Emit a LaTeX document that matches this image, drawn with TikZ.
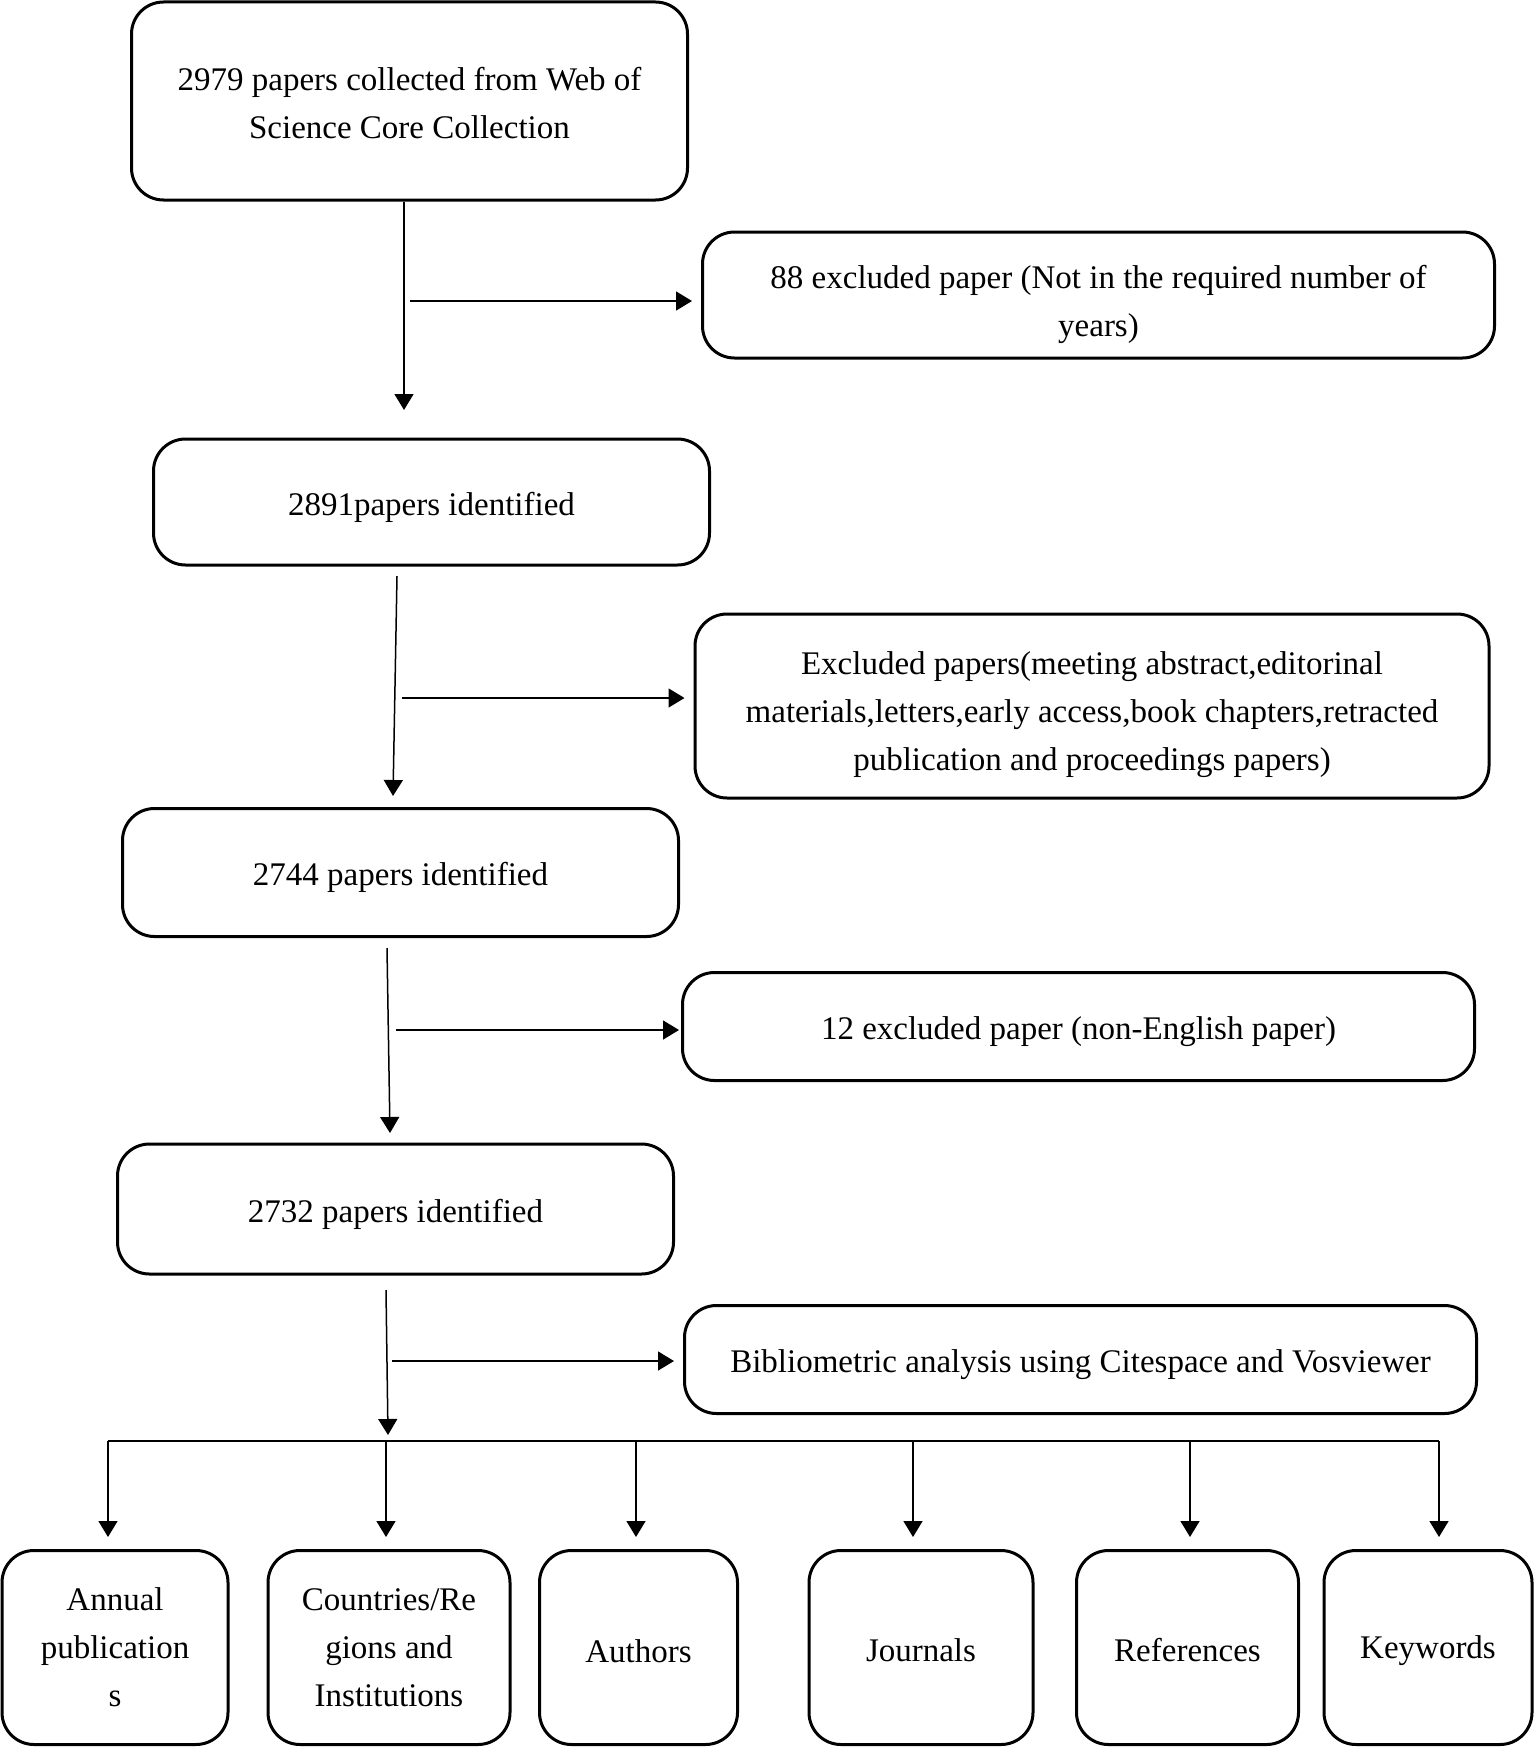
\documentclass[tikz,border=0pt]{standalone}
\usepackage{fontspec}
\setmainfont{Liberation Serif}
\usetikzlibrary{arrows.meta}

\newcommand{\padtop}[1]{\rule{0pt}{#1}}

\tikzset{every picture/.style={line width=0.75pt}}
\tikzset{
  rbox/.style={draw, line width=1.5pt, rounded corners=16pt, align=center, inner sep=0pt,
    font=\fontsize{16.5}{24}\selectfont},
  arr/.style={-{Triangle[length=8pt,width=9.5pt]}, line width=0.75pt}
}

\begin{document}
\begin{tikzpicture}[x=0.5pt,y=0.5pt,yscale=-1,xscale=1]
\useasboundingbox (0,0) rectangle (1535,1750);

% Rounded Rect
\node [rbox, minimum width=278pt, minimum height=99pt] (collect) at (409.5,101) {\padtop{14pt}2979 papers collected from Web of\\Science Core Collection};
% Rounded Rect
\node [rbox, minimum width=396pt, minimum height=63pt] (excl1) at (1098.5,295) {\padtop{21pt}88 excluded paper (Not in the required number of\\years)};
% Rounded Rect
\node [rbox, minimum width=278pt, minimum height=63pt] (ident1) at (431.5,502) {\padtop{17pt}2891papers identified};
% Rounded Rect
\node [rbox, minimum width=397pt, minimum height=92pt] (excl2) at (1092,706) {\padtop{20pt}Excluded papers(meeting abstract,editorinal\\materials,letters,early access,book chapters,retracted\\publication and proceedings papers)};
% Rounded Rect
\node [rbox, minimum width=278pt, minimum height=64pt] (ident2) at (400.5,872.5) {\padtop{17pt}2744 papers identified};
% Rounded Rect
\node [rbox, minimum width=396pt, minimum height=54pt] (excl3) at (1078.5,1026.5) {\padtop{17pt}12 excluded paper (non-English paper)};
% Rounded Rect
\node [rbox, minimum width=278pt, minimum height=65pt] (ident3) at (395.5,1209) {\padtop{17pt}2732 papers identified};
% Rounded Rect
\node [rbox, minimum width=396pt, minimum height=54pt] (biblio) at (1080.5,1359.5) {\padtop{17pt}Bibliometric analysis using Citespace and Vosviewer};

% Bottom boxes
\node [rbox, minimum width=113pt, minimum height=97pt] (annual) at (115,1647.5) {Annual\\publication\\s};
\node [rbox, minimum width=121pt, minimum height=97pt] (country) at (389,1647.5) {Countries/Re\\gions and\\Institutions};
\node [rbox, minimum width=99pt, minimum height=97pt] (author) at (638.5,1647.5) {\padtop{15pt}Authors};
\node [rbox, minimum width=112pt, minimum height=97pt] (journal) at (921,1647.5) {\padtop{14pt}Journals};
\node [rbox, minimum width=111pt, minimum height=97pt] (refs) at (1187.5,1647.5) {\padtop{14pt}References};
\node [rbox, minimum width=104pt, minimum height=97pt] (keyw) at (1428,1647.5) {\padtop{15pt}Keywords};

% Coordinates
\coordinate (t1) at (404,410);
\coordinate (t2) at (393,796);
\coordinate (t3) at (390,1133);
\coordinate (t4) at (388,1435);
\coordinate (s1) at (410,301);
\coordinate (s2) at (402,698);
\coordinate (s3) at (396,1030);
\coordinate (s4) at (392,1361);
\coordinate (busL) at (108,1441);
\coordinate (busR) at (1439,1441);

% Straight Lines
\draw [arr] (collect.south -| t1) -- (t1);
\draw [arr] (397,576) -- (t2);
\draw [arr] (387,948) -- (t3);
\draw [arr] (386,1290) -- (t4);

% Straight Lines
\draw [arr, shorten >=4.5pt] (s1) -- (s1 -| excl1.west);
\draw [arr, shorten >=4.5pt] (s2) -- (s2 -| excl2.west);
\draw [arr, shorten >=1pt] (s3) -- (s3 -| excl3.west);
\draw [arr, shorten >=4.5pt] (s4) -- (s4 -| biblio.west);

% Straight Lines
\draw (busL) -- (busR);
\foreach \n/\x in {annual/108,country/386,author/636,journal/913,refs/1190,keyw/1439}
  \draw [arr, shorten >=6pt] (\x,1441) -- (\n.north -| \x,0);

\end{tikzpicture}
\end{document}
